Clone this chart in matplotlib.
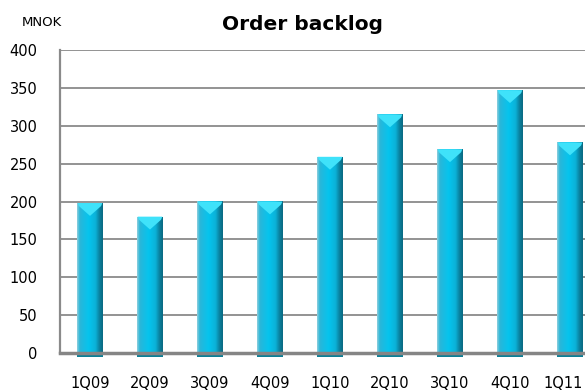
import matplotlib
matplotlib.use("Agg")
import matplotlib.pyplot as plt
import matplotlib.transforms as mtransforms
import numpy as np
from matplotlib.colors import LinearSegmentedColormap
from matplotlib.patches import Polygon

quarters = ["1Q09", "2Q09", "3Q09", "4Q09", "1Q10", "2Q10", "3Q10", "4Q10", "1Q11"]
backlog = [198, 180, 200, 200, 259, 315, 269, 347, 278]
yticks = [0, 50, 100, 150, 200, 250, 300, 350, 400]

fig = plt.figure(figsize=(5.85, 3.92), dpi=100)
ax = fig.add_axes([60/585, 39/392, 540/585, 303/392])
ax.set_xlim(-0.5, len(quarters) - 0.5)
ax.set_ylim(0, 400)

cmap = LinearSegmentedColormap.from_list("bar", [
    (0.0, "#8fd0de"), (0.1, "#2ab6d8"), (0.45, "#05c4ee"),
    (0.72, "#0bb2d8"), (0.88, "#0a7f9c"), (1.0, "#0a6a82")])
grad = np.linspace(0, 1, 64).reshape(1, -1)

w = 0.43
base = -5
for i, v in enumerate(backlog):
    bars = ax.bar(i, v - base, bottom=base, width=w, color="none",
                  edgecolor="none", zorder=2, clip_on=False)
    patch = bars[0]
    im = ax.imshow(grad, cmap=cmap, aspect="auto",
                   extent=[i - w/2, i + w/2, base, v], zorder=2,
                   interpolation="bicubic")
    im.set_clip_path(patch)
    h = 17
    tri = Polygon([[i - w/2 + 0.01, v], [i + w/2 - 0.01, v],
                   [i + w/2 - 0.03, v - 4], [i, v - h], [i - w/2 + 0.03, v - 4]],
                  closed=True, facecolor="#3fe2fa", edgecolor="none", zorder=3)
    ax.add_patch(tri)
    ax.add_patch(plt.Rectangle((i - w/2, base), w, -base, facecolor="#0b7f96",
                               edgecolor="none", zorder=3, clip_on=False))

ax.set_yticks(yticks)
ax.yaxis.grid(True, color="#8a8a8a", linewidth=1.3, zorder=1)
ax.set_axisbelow(True)
for s in ["top", "right"]:
    ax.spines[s].set_visible(False)
ax.spines["left"].set_color("#8a8a8a")
ax.spines["left"].set_linewidth(1.6)
ax.spines["bottom"].set_color("#858585")
ax.spines["bottom"].set_linewidth(2.5)
ax.spines["bottom"].set_zorder(5)
ax.tick_params(axis="y", length=0, pad=16, labelsize=10.5)
ax.tick_params(axis="x", length=0, labelbottom=False)

xlab_tr = mtransforms.blended_transform_factory(ax.transData, fig.transFigure)
label_y = 1 - 384/392
for i, q in enumerate(quarters):
    if i == len(quarters) - 1:
        fig.text(583/585, label_y, q, ha="right", va="center", fontsize=10.5)
    else:
        ax.text(i, label_y, q, ha="center", va="center", fontsize=10.5,
                transform=xlab_tr, clip_on=False)

fig.text(303/585, 1 - 30/392, "Order backlog", ha="center", va="baseline",
         fontsize=14.5, fontweight="bold")
fig.text(42/585, 1 - 23/392, "MNOK", ha="center", va="center", fontsize=9.5)

fig.savefig("out.png", dpi=100)
